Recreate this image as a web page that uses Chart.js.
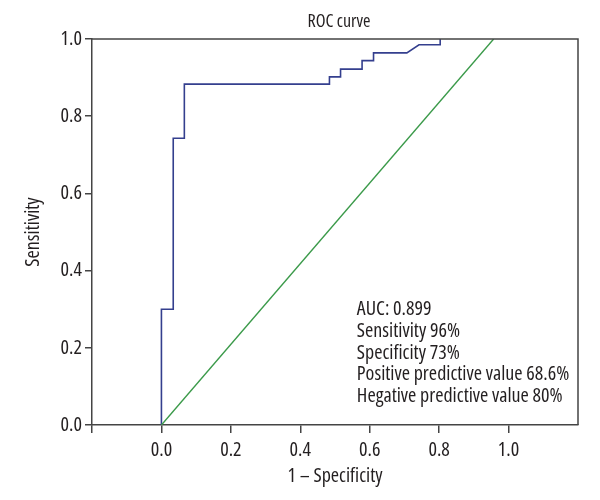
<!DOCTYPE html>
<html>
<head>
<meta charset="utf-8">
<script src="https://cdn.jsdelivr.net/npm/chart.js@4/dist/chart.umd.min.js"></script>
<style>
html,body{margin:0;padding:0;background:#fff;}
#wrap{width:600px;height:500px;}
</style>
</head>
<body>
<div id="wrap"><canvas id="c" width="600" height="500"></canvas></div>
<script>
// ROC curve vertices (1 - specificity, sensitivity)
const rocFpr = [0, 0, 0.034, 0.034, 0.066, 0.066, 0.484, 0.484, 0.516, 0.516, 0.578, 0.578, 0.611, 0.611, 0.707, 0.742, 0.803, 0.803];
const rocTpr = [0, 0.30, 0.30, 0.743, 0.743, 0.883, 0.883, 0.902, 0.902, 0.922, 0.922, 0.944, 0.944, 0.964, 0.964, 0.985, 0.985, 1.0];
// Reference diagonal
const refFpr = [0, 0.957];
const refTpr = [0, 1.0];
// Tick values
const xTickValues = [-0.2, 0, 0.2, 0.4, 0.6, 0.8, 1.0];
const yTickValues = [0, 0.2, 0.4, 0.6, 0.8, 1.0];
const chartTitle = 'ROC curve';
const xTitle = '1 \u2013 Specificity';
const yTitle = 'Sensitivity';
const annotationLines = ['AUC: 0.899', 'Sensitivity 96%', 'Specificity 73%', 'Positive predictive value 68.6%', 'Hegative predictive value 80%'];

const FAMILY = '"Open Sans", "Roboto Condensed", sans-serif';
const STRETCH = 'condensed';
const AXIS = '#444444';
const TEXT = '#231f20';

const toPts = (xs, ys) => xs.map((x, i) => ({x: x, y: ys[i]}));
const fnt = (size) => ({family: FAMILY, size: size, weight: STRETCH});

const framePlugin = {
  id: 'frame',
  afterDatasetsDraw(chart) {
    const {ctx, chartArea: a, scales} = chart;
    ctx.save();
    ctx.strokeStyle = AXIS;
    ctx.lineWidth = 1.5;
    ctx.beginPath();
    ctx.moveTo(a.left, a.top);
    ctx.lineTo(a.right, a.top);
    ctx.lineTo(a.right, a.bottom);
    ctx.stroke();
    // title centered over plot area
    ctx.fillStyle = TEXT;
    ctx.font = STRETCH + ' 18px ' + FAMILY;
    ctx.textAlign = 'center';
    ctx.textBaseline = 'middle';
    ctx.fillText(chartTitle, (a.left + a.right) / 2 + 4, 22);
    // annotation text block
    ctx.font = STRETCH + ' 20px ' + FAMILY;
    ctx.textAlign = 'left';
    const x0 = scales.x.getPixelForValue(0.563);
    const y0 = scales.y.getPixelForValue(0.30);
    annotationLines.forEach((t, i) => ctx.fillText(t, x0, y0 + i * 21.8));
    ctx.restore();
  }
};

new Chart(document.getElementById('c'), {
  type: 'scatter',
  data: {
    datasets: [
      {
        data: toPts(refFpr, refTpr),
        showLine: true,
        borderColor: '#3b9a4a',
        borderWidth: 1.4,
        pointRadius: 0,
        fill: false,
        tension: 0
      },
      {
        data: toPts(rocFpr, rocTpr),
        showLine: true,
        borderColor: '#343f8e',
        borderWidth: 1.6,
        pointRadius: 0,
        fill: false,
        tension: 0
      }
    ]
  },
  options: {
    responsive: false,
    animation: false,
    devicePixelRatio: 1,
    layout: {padding: {top: 39, right: 22, left: 0, bottom: 0}},
    plugins: {legend: {display: false}, tooltip: {enabled: false}, title: {display: false}},
    scales: {
      x: {
        type: 'linear',
        min: -0.2,
        max: 1.2,
        afterBuildTicks: (s) => { s.ticks = xTickValues.map(v => ({value: v})); },
        afterFit: (s) => { s.height = 75; },
        ticks: {
          color: TEXT,
          font: fnt(20),
          padding: 5,
          maxRotation: 0,
          autoSkip: false,
          callback: (v) => (v < -0.01 ? '' : Number(v).toFixed(1))
        },
        grid: {drawOnChartArea: false, drawTicks: true, tickLength: 8, color: AXIS, lineWidth: 1.5},
        border: {color: AXIS, width: 1.5},
        title: {display: true, text: xTitle, color: TEXT, font: fnt(20), padding: {top: 0, bottom: 12}}
      },
      y: {
        type: 'linear',
        min: 0,
        max: 1,
        afterBuildTicks: (s) => { s.ticks = yTickValues.map(v => ({value: v})); },
        afterFit: (s) => { s.width = 92; },
        ticks: {
          color: TEXT,
          font: fnt(20),
          padding: 3,
          autoSkip: false,
          callback: (v) => Number(v).toFixed(1)
        },
        grid: {drawOnChartArea: false, drawTicks: true, tickLength: 7, color: AXIS, lineWidth: 1.5},
        border: {color: AXIS, width: 1.5},
        title: {display: true, text: yTitle, color: TEXT, font: fnt(20), padding: {top: 21, bottom: 0}}
      }
    }
  },
  plugins: [framePlugin]
});
</script>
</body>
</html>
